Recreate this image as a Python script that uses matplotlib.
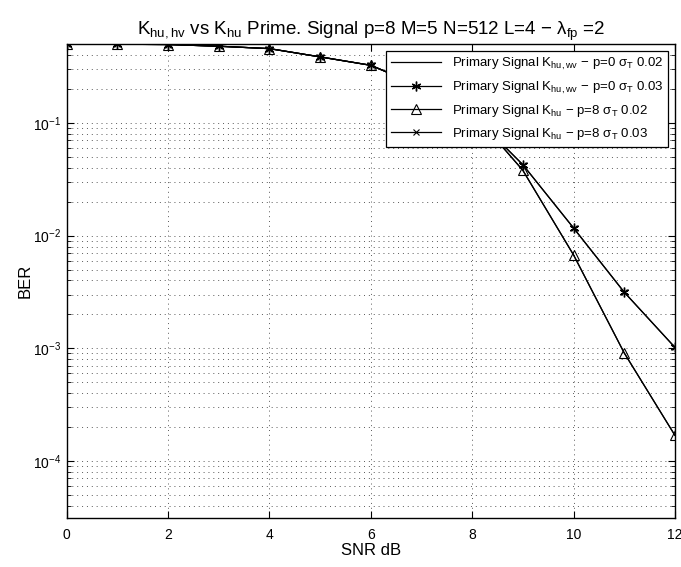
import numpy as np
import matplotlib
matplotlib.use("Agg")
import matplotlib.pyplot as plt
from matplotlib.ticker import LogLocator, NullFormatter

plt.rcParams['font.family'] = ['Liberation Sans', 'DejaVu Sans']
plt.rcParams['mathtext.fontset'] = 'custom'
plt.rcParams['mathtext.rm'] = 'Liberation Sans'
plt.rcParams['mathtext.it'] = 'Liberation Sans'
plt.rcParams['mathtext.default'] = 'rm'

#SNR axis and BER curves
snr = [0, 1, 2, 3, 4, 5, 6, 7, 8, 9, 10, 11, 12]
ber_low = [0.5, 0.5, 0.497, 0.48, 0.457, 0.386, 0.325, 0.21, 0.125, 0.038, 0.00675, 0.00091, 0.000169]
ber_high = [0.5, 0.5, 0.497, 0.48, 0.457, 0.386, 0.325, 0.21, 0.12, 0.0426, 0.0117, 0.00315, 0.00102]

labels = [r'Primary Signal K$_{hu,wv}$ $-$ p=0 $\sigma_T$ 0.02',
          r'Primary Signal K$_{hu,wv}$ $-$ p=0 $\sigma_T$ 0.03',
          r'Primary Signal K$_{hu}$ $-$ p=8 $\sigma_T$ 0.02',
          r'Primary Signal K$_{hu}$ $-$ p=8 $\sigma_T$ 0.03']
title = r'K$_{hu,hv}$ vs K$_{hu}$ Prime. Signal p=8 M=5 N=512 L=4 $-$ $\lambda_{fp}$ =2'

fig = plt.figure(figsize=(6.81, 5.67), dpi=100)
ax = fig.add_axes([0.098, 0.086, 0.893, 0.836])

lw = 0.9
ax.semilogy(snr, ber_low, '-', color='k', lw=lw, label=labels[0])
ax.semilogy(snr, ber_high, '-', color='k', lw=lw, marker=(6, 2, 0), ms=7, label=labels[1])
ax.semilogy(snr, ber_low, '-', color='k', lw=lw, marker='^', ms=7.5, mfc='none', mew=0.8, label=labels[2])
ax.semilogy(snr, ber_high, '-', color='k', lw=lw, marker='x', ms=5, mew=0.8, label=labels[3])

ax.set_xlim(0, 12)
ax.set_ylim(3.1e-5, 0.5)
ax.set_xticks(range(0, 13, 2))
ax.yaxis.set_major_locator(LogLocator(base=10))
ax.yaxis.set_minor_locator(LogLocator(base=10, subs=np.arange(2, 10)))
ax.yaxis.set_minor_formatter(NullFormatter())

grid_ls = (0, (1, 4))
ax.grid(True, which='major', ls=grid_ls, color='0.35', lw=0.7)
ax.grid(True, which='minor', axis='y', ls=grid_ls, color='0.35', lw=0.7)
ax.tick_params(which='both', direction='in', top=True, right=True, labelsize=10)
ax.tick_params(axis='x', pad=7)
ax.tick_params(axis='y', pad=4)
ax.tick_params(which='major', length=5)
ax.tick_params(which='minor', length=3)
for s in ax.spines.values():
    s.set_linewidth(1.0)

ax.set_xlabel('SNR dB', fontsize=12, labelpad=1)
ax.set_ylabel('BER', fontsize=12)
ax.yaxis.set_label_coords(-0.056, 0.5)
ax.set_title(title, fontsize=13.5, pad=7)

leg = ax.legend(loc='upper right', fontsize=9.5, fancybox=False, edgecolor='k',
                framealpha=1, handlelength=3.8, borderaxespad=0.5, labelspacing=0.55)
leg.get_frame().set_linewidth(0.9)

fig.savefig('out.png', dpi=100)
